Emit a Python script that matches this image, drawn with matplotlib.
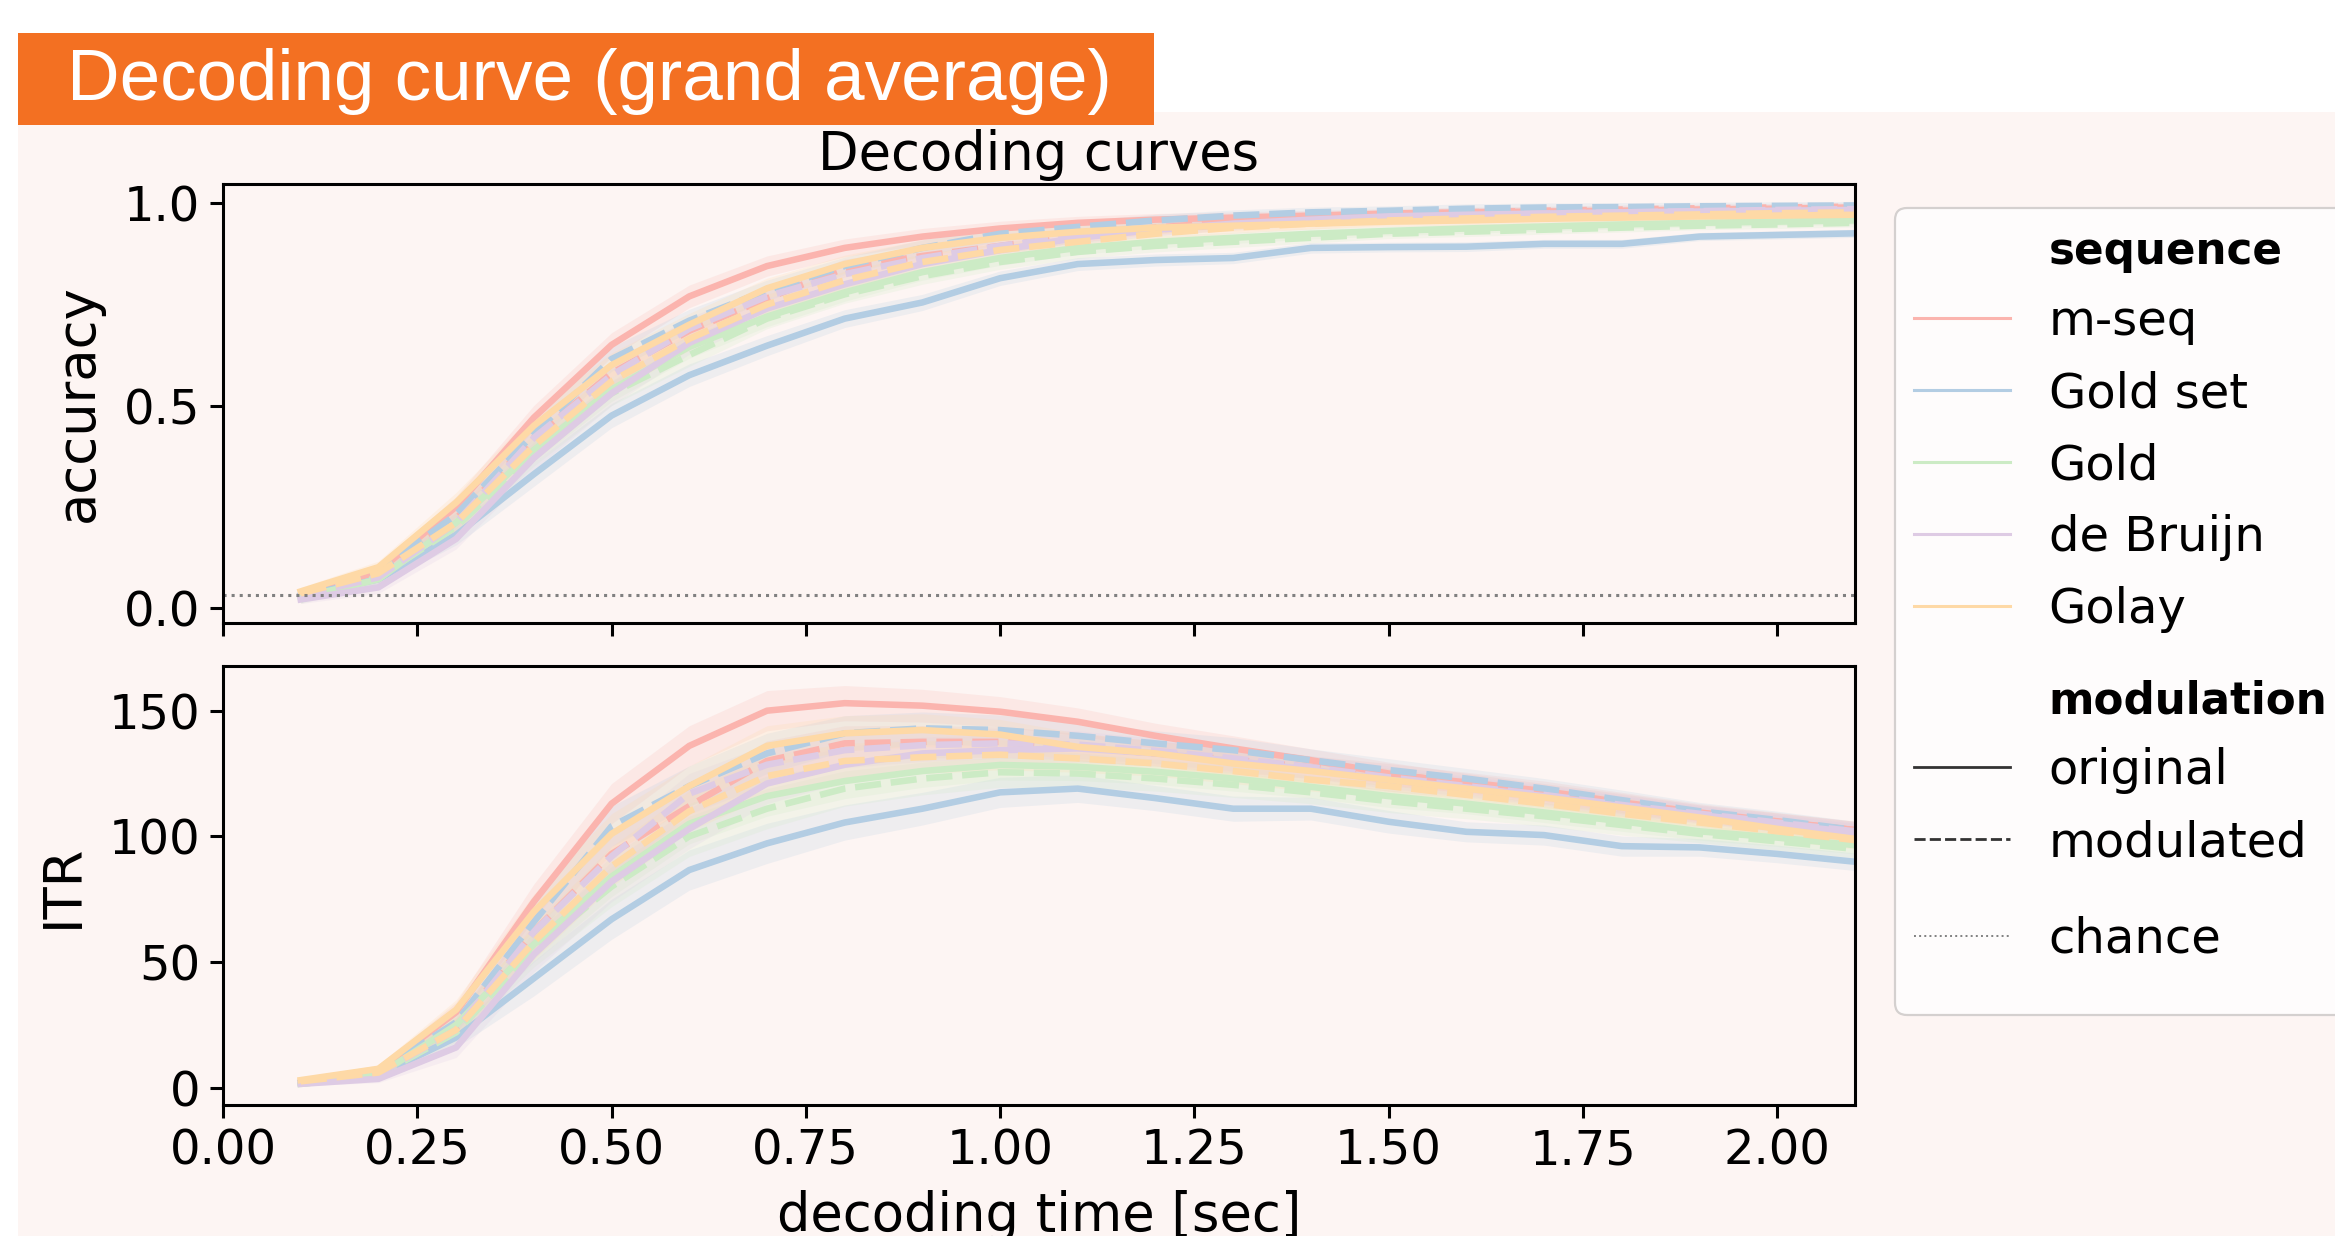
import matplotlib
matplotlib.use("Agg")
import matplotlib.pyplot as plt
from matplotlib.patches import Rectangle, FancyBboxPatch
from matplotlib.lines import Line2D
from matplotlib.transforms import IdentityTransform

# decoding time points (sec)
times = [0.1, 0.2, 0.3, 0.4, 0.5, 0.6, 0.7, 0.8, 0.9, 1.0, 1.1,
         1.2, 1.3, 1.4, 1.5, 1.6, 1.7, 1.8, 1.9, 2.0, 2.1]

sequences = ["m-seq", "Gold set", "Gold", "de Bruijn", "Golay"]
modulations = ["original", "modulated"]
seq_colors = ["#fbb4ae", "#b3cde3", "#ccebc5", "#decbe4", "#fed9a6"]
chance = 1 / 32

# accuracy (grand average)
acc_mseq_orig = [0.03, 0.09, 0.25, 0.47, 0.65, 0.77, 0.845, 0.89, 0.918, 0.938, 0.952,
                 0.96, 0.965, 0.97, 0.975, 0.978, 0.98, 0.982, 0.985, 0.987, 0.99]
acc_mseq_mod = [0.03, 0.085, 0.22, 0.42, 0.58, 0.685, 0.765, 0.84, 0.87, 0.895, 0.92,
                0.94, 0.955, 0.965, 0.972, 0.978, 0.982, 0.985, 0.988, 0.99, 0.992]
acc_goldset_orig = [0.03, 0.07, 0.18, 0.33, 0.475, 0.575, 0.648, 0.715, 0.755, 0.815, 0.85,
                    0.86, 0.865, 0.89, 0.892, 0.893, 0.90, 0.90, 0.918, 0.922, 0.926]
acc_goldset_mod = [0.035, 0.09, 0.23, 0.43, 0.615, 0.71, 0.785, 0.845, 0.89, 0.925, 0.942,
                   0.958, 0.97, 0.978, 0.982, 0.987, 0.99, 0.991, 0.993, 0.994, 0.995]
acc_gold_orig = [0.025, 0.07, 0.21, 0.39, 0.54, 0.645, 0.72, 0.78, 0.83, 0.865, 0.89,
                 0.905, 0.915, 0.925, 0.932, 0.938, 0.943, 0.948, 0.952, 0.955, 0.958]
acc_gold_mod = [0.02, 0.075, 0.20, 0.38, 0.53, 0.625, 0.715, 0.775, 0.82, 0.855, 0.88,
                0.895, 0.905, 0.915, 0.925, 0.93, 0.935, 0.94, 0.945, 0.948, 0.952]
acc_debruijn_orig = [0.02, 0.05, 0.17, 0.37, 0.53, 0.655, 0.74, 0.80, 0.85, 0.885, 0.915,
                     0.935, 0.95, 0.96, 0.968, 0.972, 0.975, 0.978, 0.98, 0.982, 0.984]
acc_debruijn_mod = [0.03, 0.075, 0.21, 0.42, 0.575, 0.69, 0.77, 0.825, 0.865, 0.895, 0.92,
                    0.935, 0.948, 0.958, 0.965, 0.97, 0.975, 0.978, 0.981, 0.984, 0.986]
acc_golay_orig = [0.04, 0.10, 0.26, 0.45, 0.60, 0.70, 0.79, 0.85, 0.89, 0.915, 0.93,
                  0.94, 0.945, 0.95, 0.955, 0.958, 0.962, 0.965, 0.968, 0.97, 0.972]
acc_golay_mod = [0.035, 0.085, 0.21, 0.40, 0.56, 0.665, 0.75, 0.81, 0.855, 0.885, 0.905,
                 0.925, 0.94, 0.95, 0.958, 0.963, 0.967, 0.97, 0.973, 0.976, 0.978]

# ITR (bits/min)
itr_mseq_orig = [2, 7, 30, 74, 113, 136, 150, 153, 152, 149.6, 145.6,
                 140, 135, 130.3, 125, 121, 117, 113, 109, 105.8, 102.5]
itr_mseq_mod = [2, 6, 24, 62, 93, 112, 130, 137, 137.6, 137.6, 135.5,
                133, 130.5, 127.5, 124.5, 121.5, 118, 113.5, 109.5, 106, 102.5]
itr_goldset_orig = [2, 5, 20, 43.5, 67, 86.6, 97.2, 105.5, 111, 117.5, 119,
                    115.2, 111, 111, 105.8, 101.8, 100.5, 96.1, 95.6, 93, 89.9]
itr_goldset_mod = [2.5, 6.5, 26, 66, 104, 120, 133, 141, 143, 142.3, 140,
                   137, 134.3, 130.3, 126.4, 123, 119, 114.4, 110, 106.5, 102.5]
itr_gold_orig = [1.5, 5, 25, 57, 84, 105, 116, 122, 126, 128.4, 127.7,
                 125.7, 123, 119.7, 116, 113, 109.5, 106, 102, 99.5, 96.5]
itr_gold_mod = [1.5, 5, 22, 55, 80, 100, 111, 119, 123, 125.5, 125,
                123, 120.5, 117.5, 114, 111, 108, 104.5, 101, 98, 95]
itr_debruijn_orig = [1.5, 3.5, 16, 53, 82, 103, 121, 128.5, 133, 134.3, 135,
                     133, 130, 126.5, 122.5, 119.5, 116, 112, 108.5, 105, 101.5]
itr_debruijn_mod = [2, 5.5, 23, 62, 92, 117, 128.5, 134.3, 136.3, 137, 136.5,
                    134, 131, 127.5, 123.5, 120, 116.5, 112.5, 109, 105.5, 102]
itr_golay_orig = [3, 7.5, 31, 70, 101, 120, 136, 141, 142.3, 140.5, 135.6,
                  133, 129, 126, 122.5, 119, 115.5, 111.5, 107.5, 103, 99]
itr_golay_mod = [2.5, 6, 23, 58, 88, 110, 124, 130, 131.5, 132.5, 131,
                 129, 126, 122.5, 120, 116.5, 113, 109, 105.5, 102, 98.5]

# half width of the confidence bands
acc_err = [0.01, 0.015, 0.025, 0.03, 0.03, 0.028, 0.025, 0.022, 0.02, 0.018, 0.016,
           0.015, 0.014, 0.013, 0.012, 0.012, 0.011, 0.011, 0.01, 0.01, 0.01]
itr_err = [0.8, 1.5, 4, 7, 8, 8, 8, 7, 6.5, 6, 5.5,
           5, 5, 4.5, 4.5, 4, 4, 4, 3.5, 3.5, 3.5]

acc = {
    ("m-seq", "original"): acc_mseq_orig, ("m-seq", "modulated"): acc_mseq_mod,
    ("Gold set", "original"): acc_goldset_orig, ("Gold set", "modulated"): acc_goldset_mod,
    ("Gold", "original"): acc_gold_orig, ("Gold", "modulated"): acc_gold_mod,
    ("de Bruijn", "original"): acc_debruijn_orig, ("de Bruijn", "modulated"): acc_debruijn_mod,
    ("Golay", "original"): acc_golay_orig, ("Golay", "modulated"): acc_golay_mod,
}
itr = {
    ("m-seq", "original"): itr_mseq_orig, ("m-seq", "modulated"): itr_mseq_mod,
    ("Gold set", "original"): itr_goldset_orig, ("Gold set", "modulated"): itr_goldset_mod,
    ("Gold", "original"): itr_gold_orig, ("Gold", "modulated"): itr_gold_mod,
    ("de Bruijn", "original"): itr_debruijn_orig, ("de Bruijn", "modulated"): itr_debruijn_mod,
    ("Golay", "original"): itr_golay_orig, ("Golay", "modulated"): itr_golay_mod,
}

bg = "#fdf5f3"
orange = "#f37022"
plt.rcParams["font.family"] = "DejaVu Sans"

fig = plt.figure(figsize=(23.35, 12.36), dpi=100, facecolor="white")
# slide background + header banner
fig.add_artist(Rectangle((0.0077, 0), 1.0, 0.9094, transform=fig.transFigure,
                         facecolor=bg, edgecolor="none", zorder=-10))
fig.add_artist(Rectangle((0.0077, 0.8989), 0.4865, 0.0744, transform=fig.transFigure,
                         facecolor=orange, edgecolor="none", zorder=-5))
fig.text(0.0287, 0.9191, "Decoding curve (grand average)", color="white",
         fontsize=52.5, family="Liberation Sans", va="baseline")

ax1 = fig.add_axes([0.0955, 0.4960, 0.6989, 0.3551])
ax2 = fig.add_axes([0.0955, 0.1060, 0.6989, 0.3554], sharex=ax1)

for ax, table, err in [(ax1, acc, acc_err), (ax2, itr, itr_err)]:
    ax.set_facecolor(bg)
    for seq, col in zip(sequences, seq_colors):
        for mod in modulations:
            y = table[(seq, mod)]
            line, = ax.plot(times, y, color=col, lw=4.7)
            if mod == "modulated":
                line.set_dashes((4, 1.5))
            lo = [v - e for v, e in zip(y, err)]
            hi = [v + e for v, e in zip(y, err)]
            ax.fill_between(times, lo, hi, color=col, alpha=0.2, linewidth=0)
    for sp in ax.spines.values():
        sp.set_linewidth(2.2)
    ax.tick_params(length=9.4, width=2.2, pad=7, labelsize=34.6)

ax1.axhline(chance, color="grey", ls=":", lw=2.2)

ax1.set_xlim(0, 2.1)
ax1.set_ylim(-0.038, 1.048)
ax2.set_ylim(-6.9, 167.9)
ax1.set_yticks([0.0, 0.5, 1.0])
ax2.set_yticks([0, 50, 100, 150])
ax1.set_xticks([0, 0.25, 0.5, 0.75, 1.0, 1.25, 1.5, 1.75, 2.0])
plt.setp(ax1.get_xticklabels(), visible=False)

ax1.set_title("Decoding curves", fontsize=38, pad=10)
ax1.set_ylabel("accuracy", fontsize=38, labelpad=14)
ax2.set_ylabel("ITR", fontsize=38, labelpad=14)
ax2.set_xlabel("decoding time [sec]", fontsize=38, labelpad=11)

# legend frame (runs past the right edge, like the slide)
frame = FancyBboxPatch((1895, 221), 600, 807, boxstyle="round,pad=0,rounding_size=12",
                       transform=IdentityTransform(), facecolor="white", alpha=0.8,
                       edgecolor="none", zorder=4)
edge = FancyBboxPatch((1895, 221), 600, 807, boxstyle="round,pad=0,rounding_size=12",
                      transform=IdentityTransform(), facecolor="none",
                      edgecolor="#d4d0cf", lw=1.6, zorder=4)
fig.add_artist(frame)
fig.add_artist(edge)

blank = Line2D([], [], visible=False)
leg_kw = dict(loc="upper left", bbox_transform=fig.transFigure, borderaxespad=0,
              borderpad=0, fontsize=34.6, labelspacing=0.52, frameon=False)

seq_handles = [blank] + [Line2D([], [], color=c, lw=2.2) for c in seq_colors]
leg_seq = fig.legend(seq_handles, ["sequence"] + sequences,
                     bbox_to_anchor=(0.8197, 0.8138), **leg_kw)
mod_handles = [blank,
               Line2D([], [], color="#333333", lw=2.0),
               Line2D([], [], color="#333333", lw=2.0, dashes=(4, 1.5))]
leg_mod = fig.legend(mod_handles, ["modulation"] + modulations,
                     bbox_to_anchor=(0.8197, 0.4506), **leg_kw)
leg_kw["loc"] = "center left"
leg_ch = fig.legend([Line2D([], [], color="grey", lw=1.4, ls=":")], ["chance"],
                    bbox_to_anchor=(0.8197, 0.2404), **leg_kw)
for leg in (leg_seq, leg_mod):
    head = leg.get_texts()[0]
    head.set_fontweight("bold")
    head.set_fontsize(31.4)

fig.savefig("out.png", dpi=100, facecolor=fig.get_facecolor())
